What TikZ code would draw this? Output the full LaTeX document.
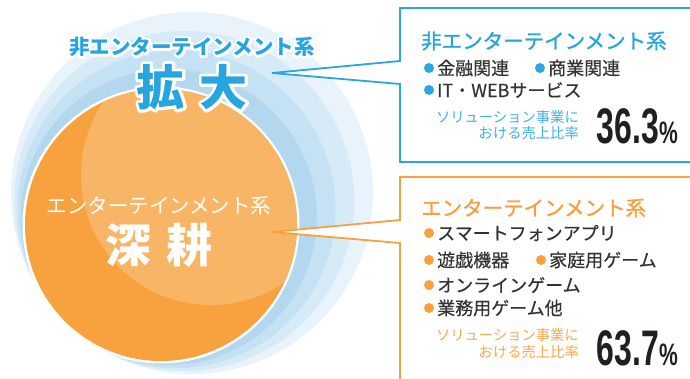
\documentclass[tikz,border=0pt]{standalone}
\usepackage{fontspec}
\usepackage{graphicx}
\newfontfamily\jp{Noto Sans CJK JP}
\newfontfamily\jpm[FakeBold=1.2]{Noto Sans CJK JP}
\newfontfamily\jpi[FakeBold=0.4]{Noto Sans CJK JP}
\newfontfamily\numf{Liberation Sans}
\definecolor{ringA}{HTML}{B3D7EF}
\definecolor{ringB}{HTML}{C5E1F4}
\definecolor{ringC}{HTML}{D7EAF7}
\definecolor{ringD}{HTML}{E8F3FB}
\definecolor{orMain}{HTML}{F8A23F}
\definecolor{orHi}{HTML}{F9B566}
\definecolor{blLine}{HTML}{29A7DF}
\definecolor{blTitle}{HTML}{27A5DE}
\definecolor{blSmall}{HTML}{41B1E4}
\definecolor{orTitle}{HTML}{F7A040}
\definecolor{orSmall}{HTML}{F8A94E}
\definecolor{txtGray}{HTML}{333333}
\definecolor{numBlack}{HTML}{231F20}
\newcommand\fsz[1]{\fontsize{#1}{#1}\selectfont}
\newcommand\bignum[2]{\numf\bfseries\scalebox{0.64}[1]{\fsz{50}#1}\scalebox{0.68}[1]{\fsz{31}#2}}
% white halo behind text: stroked copy, then filled copy
\newcommand\halo[3]{\rlap{\color{white}\special{pdf:literal direct 1 Tr #1 w 1 j}#3\special{pdf:literal direct 0 Tr}}{\color{#2}#3}}
\tikzset{
  txt/.style={inner sep=0pt, font=\jp},
  circtitle/.style={txt, font=\jp\bfseries\fsz{20.5}},
  boxtitle/.style={txt, anchor=west, font=\jpm\fsz{20.5}},
  item/.style={txt, anchor=west, text=txtGray, font=\jpi\fsz{18}},
  smalltxt/.style={txt, anchor=east, align=right, font=\jp\fontsize{14.3}{16.5}\selectfont},
  numtxt/.style={inner sep=0pt, anchor=south east, text=numBlack},
  callout/.style={line width=1.8pt, fill=white, line join=miter},
}
\begin{document}
\begin{tikzpicture}[x=1pt,y=-1pt]
\useasboundingbox (0,0) rectangle (690,378);
% rings
\fill[ringD] (192,193) circle (181pt);
\fill[ringC] (184.25,201) circle (170pt);
\fill[ringB] (176.5,209) circle (159pt);
\fill[ringA] (168.75,217) circle (148pt);
% orange circle
\fill[white] (161,225) circle (138.5pt);
\fill[orMain] (161,225) circle (136pt);
\begin{scope}
  \clip (161,225) circle (136pt);
  \fill[orHi] (211,175) circle (130pt);
\end{scope}
% top texts with white halo
\node[circtitle] (toptitle) at (192,47) {\halo{4.5}{blTitle}{非エンターテインメント系}};
\node[txt, font=\jp\bfseries\fsz{48}] (kakudai) at (192,87) {\halo{6}{blTitle}{拡\hspace{15pt}大}};
% orange circle texts
\node[txt, font=\jp\fsz{20.5}, text=white] (enttitle) at (159,206) {エンターテインメント系};
\node[txt, font=\jp\bfseries\fsz{46}, text=white] (shinkou) at (159,245) {深\hspace{16pt}耕};
% callouts
\coordinate (btip) at (272,73);
\coordinate (otip) at (272,232);
\draw[callout, draw=blLine] (692,8) -- (400,8) -- (400,61) -- (btip) -- (400,84) -- (400,162) -- (692,162);
\draw[callout, draw=orMain] (692,177) -- (400,177) -- (400,220) -- (otip) -- (400,243) -- (400,380) -- (692,380);
% blue box content
\node[boxtitle, text=blTitle] (btitle) at (421,41) {非エンターテインメント系};
\fill[blLine] (429,68) circle (5pt);
\node[item] (b1) at (437,68) {金融関連};
\fill[blLine] (540,68) circle (5pt);
\node[item] (b2) at (548,68) {商業関連};
\fill[blLine] (429,90) circle (5pt);
\node[item] (b3) at (437,90) {IT・WEBサービス};
\node[smalltxt, text=blSmall] (bsmall) at (579,125) {ソリューション事業に\\おける売上比率};
\node[numtxt] (bnum) at (678,144) {\bignum{36.3}{\%}};
% orange box content
\node[boxtitle, text=orTitle] (otitle) at (421,208) {エンターテインメント系};
\fill[orMain] (429,233) circle (5pt);
\node[item] (o1) at (437,233) {スマートフォンアプリ};
\fill[orMain] (429,260) circle (5pt);
\node[item] (o2) at (437,260) {遊戯機器};
\fill[orMain] (541,260) circle (5pt);
\node[item] (o3) at (549,260) {家庭用ゲーム};
\fill[orMain] (429,285) circle (5pt);
\node[item] (o4) at (437,285) {オンラインゲーム};
\fill[orMain] (429,308) circle (5pt);
\node[item] (o5) at (437,308) {業務用ゲーム他};
\node[smalltxt, text=orSmall] (osmall) at (579,343.5) {ソリューション事業に\\おける売上比率};
\node[numtxt] (onum) at (678,366) {\bignum{63.7}{\%}};
\end{tikzpicture}
\end{document}
